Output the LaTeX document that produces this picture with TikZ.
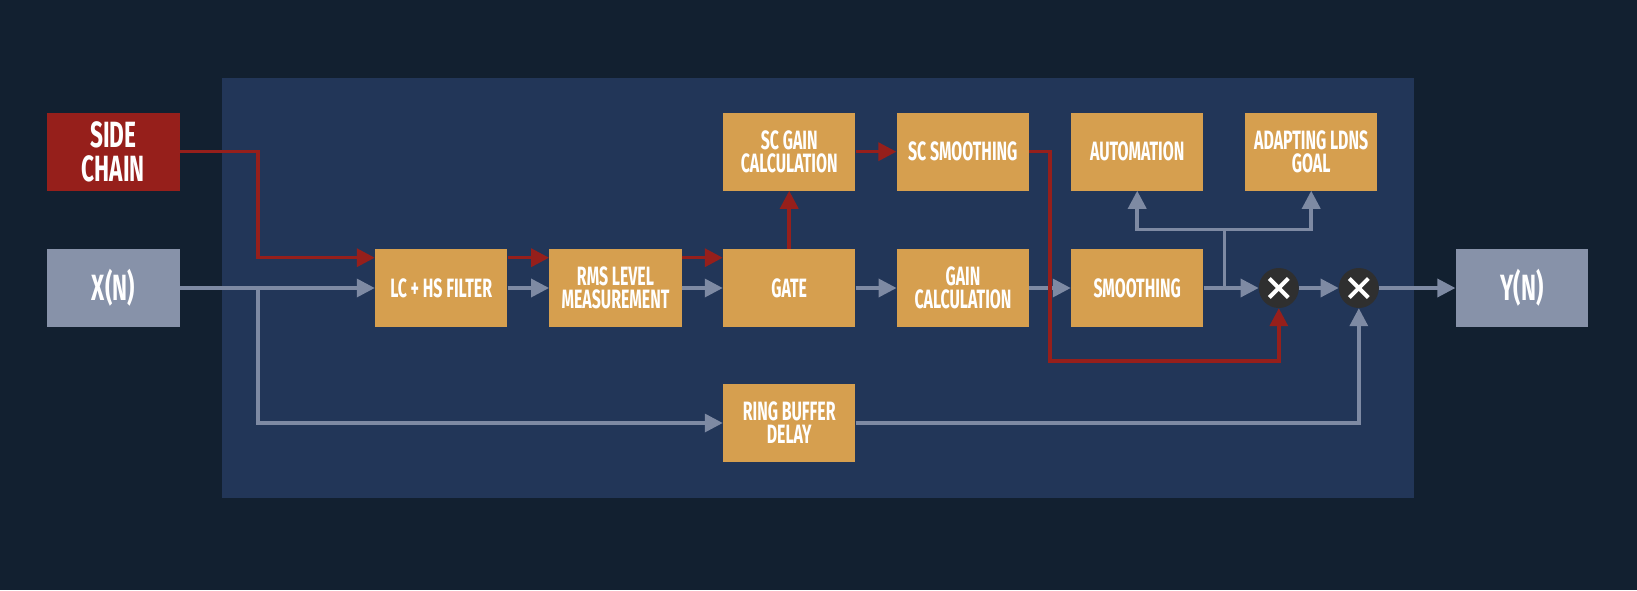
\documentclass[tikz,border=0pt]{standalone}
\usepackage{fontspec}
\setmainfont{Fira Sans}[FakeStretch=0.6]
\newfontfamily\iofam{Fira Sans}[FakeStretch=0.62]
\usetikzlibrary{arrows.meta}
\definecolor{bgc}{HTML}{122030}
\definecolor{panelc}{HTML}{223658}
\definecolor{orangec}{HTML}{D69F4F}
\definecolor{redc}{HTML}{961F1B}
\definecolor{ioc}{HTML}{8792A9}
\definecolor{linec}{HTML}{7E8AA3}
\definecolor{mulc}{HTML}{2F2F2F}
\newcommand\boxfont{\fontsize{26.5}{23}\selectfont\bfseries}
\newcommand\iofont{\iofam\fontsize{36.5}{33.3}\selectfont\bfseries}
\begin{document}
\begin{tikzpicture}[x=1pt,y=-1pt,
  blk/.style={fill=orangec, text=white, minimum width=132.5pt, minimum height=77.7pt, inner sep=0pt, align=center, font=\boxfont},
  iobox/.style={blk, fill=ioc, font=\iofont},
  sidebox/.style={blk, fill=redc, font=\iofont},
  mul/.style={circle, fill=mulc, minimum size=40pt, inner sep=0pt},
  redl/.style={draw=redc, line width=3.5pt, -{Triangle[length=18pt,width=18pt]}},
  grayl/.style={draw=linec, line width=3.5pt, -{Triangle[length=18pt,width=18pt]}},
  grayp/.style={draw=linec, line width=3.5pt},
]
\useasboundingbox (0,0) rectangle (1637,590);
\fill[bgc] (0,0) rectangle (1637,590);
\fill[panelc] (222,78) rectangle (1414,498);

\node[sidebox] (side) at (113.4,151.7) {SIDE\\CHAIN};
\node[iobox] (xin) at (113.4,288) {X(N)};
\node[blk] (lc) at (441.2,288) {LC + HS FILTER};
\node[blk] (rms) at (615.5,288) {RMS LEVEL\\MEASUREMENT};
\node[blk] (gate) at (789.2,288) {GATE};
\node[blk] (scg) at (789.2,151.7) {SC GAIN\\CALCULATION};
\node[blk] (scs) at (962.8,151.7) {SC SMOOTHING};
\node[blk] (gc) at (963,288) {GAIN\\CALCULATION};
\node[blk] (sm) at (1137.2,288) {SMOOTHING};
\node[blk] (auto) at (1137.2,151.7) {AUTOMATION};
\node[blk] (adapt) at (1311.2,151.7) {ADAPTING LDNS\\GOAL};
\node[blk] (ring) at (789.2,423) {RING BUFFER\\DELAY};
\node[mul] (m1) at (1278.8,288) {};
\node[mul] (m2) at (1358.8,288) {};
\node[iobox] (yout) at (1521.8,288) {Y(N)};

\foreach \m in {m1,m2}{
  \draw[white, line width=4pt] ([xshift=-9.5pt,yshift=-9.5pt]\m.center) -- ([xshift=9.5pt,yshift=9.5pt]\m.center);
  \draw[white, line width=4pt] ([xshift=-9.5pt,yshift=9.5pt]\m.center) -- ([xshift=9.5pt,yshift=-9.5pt]\m.center);
}

\coordinate (scbend) at (258,257.7);
\coordinate (xsplit) at (258,288);
\coordinate (retbend) at (1050,361);
\coordinate (brfoot) at (1224.7,288);
\coordinate (brtop) at (1224.7,229.7);

% gray signal path
\draw[grayl] (xin.east) -- (lc.west);
\draw[grayl] (xsplit) |- (ring.west);
\draw[grayl] (lc.east) -- (rms.west);
\draw[grayl] (rms.east) -- (gate.west);
\draw[grayl] (gate.east) -- (gc.west);
\draw[grayl] (gc.east) -- (sm.west);
\draw[grayl] (sm.east) -- (m1.west);
\draw[grayp] (brfoot) -- (brtop);
\draw[grayl] (brtop) -| (auto.south);
\draw[grayl] (brtop) -| (adapt.south);
\draw[grayl] (m1.east) -- (m2.west);
\draw[grayl] (m2.east) -- (yout.west);
\draw[grayl] (ring.east) -| (m2.south);

% red side chain path
\draw[redl] (side.east) -| (scbend) -- ([yshift=30.3pt]lc.west);
\draw[redl] ([yshift=30.3pt]lc.east) -- ([yshift=30.3pt]rms.west);
\draw[redl] ([yshift=30.3pt]rms.east) -- ([yshift=30.3pt]gate.west);
\draw[redl] (gate.north) -- (scg.south);
\draw[redl] (scg.east) -- (scs.west);
\draw[redl] (scs.east) -| (retbend) -| (m1.south);
\end{tikzpicture}
\end{document}
